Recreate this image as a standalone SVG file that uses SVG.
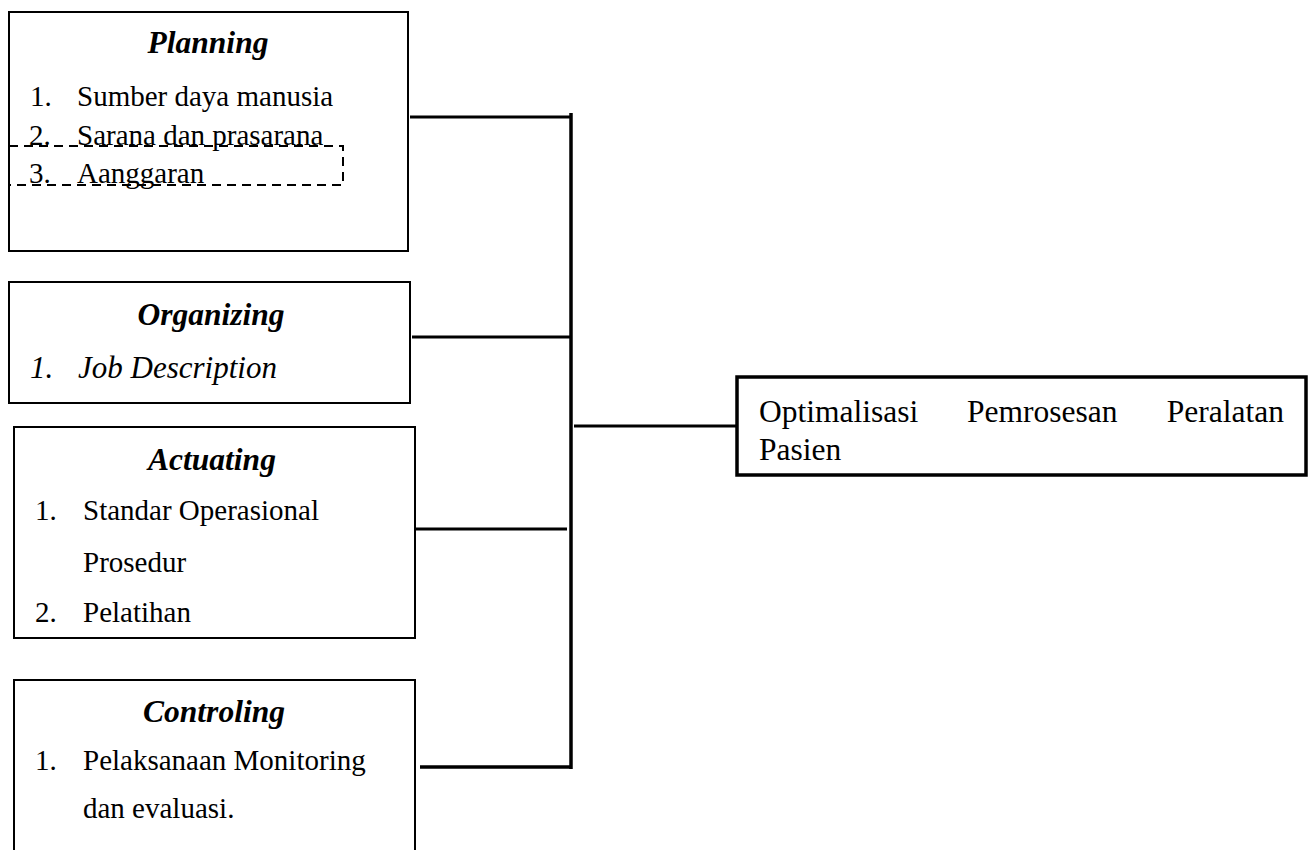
<svg xmlns="http://www.w3.org/2000/svg" width="1314" height="850" viewBox="0 0 1314 850">
<style>
  .box { fill: #ffffff; stroke: #000000; stroke-width: 2; }
  .out { fill: #ffffff; stroke: #000000; stroke-width: 3.5; }
  .dash { fill: none; stroke: #000000; stroke-width: 2; stroke-dasharray: 9 6; }
  .title { font-family: "Liberation Serif", "Times New Roman", serif; font-size: 31.5px; font-weight: bold; font-style: italic; fill: #000; }
  .item { font-family: "Liberation Serif", "Times New Roman", serif; font-size: 29px; fill: #000; }
  .ital { font-family: "Liberation Serif", "Times New Roman", serif; font-size: 31px; font-style: italic; fill: #000; }
  .outtxt { font-family: "Liberation Serif", "Times New Roman", serif; font-size: 31.5px; fill: #000; }
  .conn { stroke: #000000; stroke-width: 3; fill: none; }
  .trunk { stroke: #000000; stroke-width: 3.5; fill: none; }
</style>
<rect width="1314" height="850" fill="#ffffff"/>
<g id="connectors">
  <line class="conn" x1="410" y1="117" x2="571" y2="117"/>
  <line class="conn" x1="412" y1="337" x2="571" y2="337"/>
  <line class="conn" x1="415" y1="529" x2="567" y2="529"/>
  <line class="trunk" x1="420" y1="767" x2="572" y2="767"/>
  <line class="trunk" x1="571" y1="113" x2="571" y2="769"/>
  <line class="conn" x1="574" y1="426" x2="737" y2="426"/>
</g>
<g id="planning">
  <rect class="box" x="9" y="12" width="399" height="239"/>
  <text class="title" x="208" y="53" text-anchor="middle">Planning</text>
  <text class="item" x="30" y="106">1.</text>
  <text class="item" x="77" y="106">Sumber daya manusia</text>
  <text class="item" x="29" y="145">2.</text>
  <text class="item" x="77" y="145">Sarana dan prasarana</text>
  <text class="item" x="29" y="183">3.</text>
  <text class="item" x="77" y="183">Aanggaran</text>
  <rect class="dash" x="9" y="146" width="334" height="39"/>
</g>
<g id="organizing">
  <rect class="box" x="9" y="282" width="401" height="121"/>
  <text class="title" x="211" y="325" text-anchor="middle">Organizing</text>
  <text class="ital" x="30" y="378">1.</text>
  <text class="ital" x="78" y="378">Job Description</text>
</g>
<g id="actuating">
  <rect class="box" x="14" y="427" width="401" height="211"/>
  <text class="title" x="212" y="470" text-anchor="middle">Actuating</text>
  <text class="item" x="35" y="520">1.</text>
  <text class="item" x="83" y="520">Standar Operasional</text>
  <text class="item" x="83" y="572">Prosedur</text>
  <text class="item" x="35" y="622">2.</text>
  <text class="item" x="83" y="622">Pelatihan</text>
</g>
<g id="controling">
  <path class="box" d="M14 852 L14 680 L415 680 L415 852"/>
  <text class="title" x="214" y="722" text-anchor="middle">Controling</text>
  <text class="item" x="35" y="770">1.</text>
  <text class="item" x="83" y="770">Pelaksanaan Monitoring</text>
  <text class="item" x="83" y="818">dan evaluasi.</text>
</g>
<g id="output">
  <rect class="out" x="737" y="377" width="569" height="98"/>
  <text class="outtxt" x="759" y="422">Optimalisasi</text>
  <text class="outtxt" x="967" y="422">Pemrosesan</text>
  <text class="outtxt" x="1284" y="422" text-anchor="end">Peralatan</text>
  <text class="outtxt" x="759" y="460">Pasien</text>
</g>
</svg>
